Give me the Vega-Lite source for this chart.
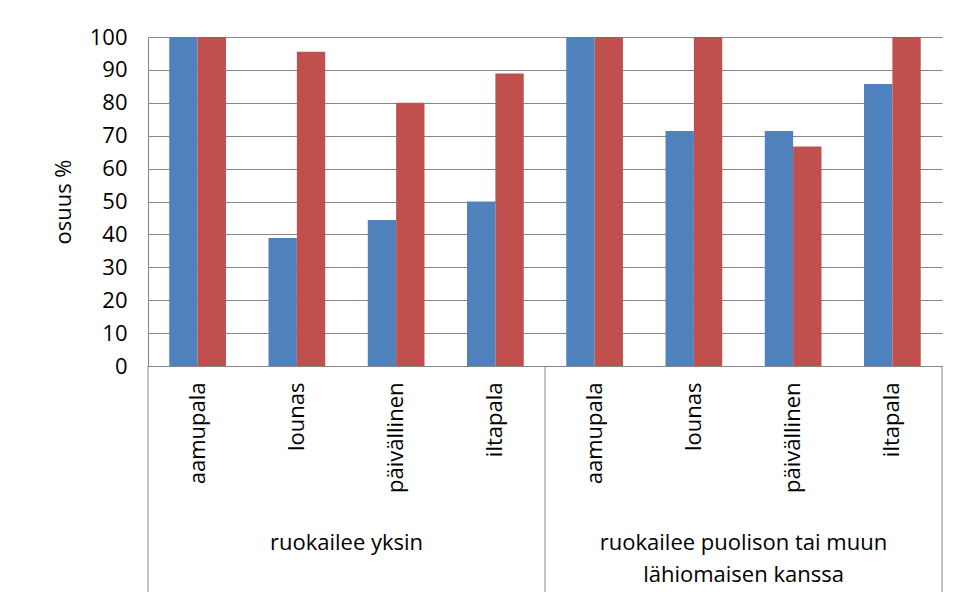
{
  "$schema": "https://vega.github.io/schema/vega-lite/v6.json",
  "background": "white",
  "autosize": {"type": "none"},
  "padding": {"left": 148, "top": 37, "right": 18, "bottom": 238},
  "width": 794,
  "height": 329,
  "data": {
    "values": [
      {"ryhma": "ruokailee yksin", "ateria": "aamupala", "sarja": "sarja 1", "osuus": 100},
      {"ryhma": "ruokailee yksin", "ateria": "aamupala", "sarja": "sarja 2", "osuus": 100},
      {"ryhma": "ruokailee yksin", "ateria": "lounas", "sarja": "sarja 1", "osuus": 38.9},
      {"ryhma": "ruokailee yksin", "ateria": "lounas", "sarja": "sarja 2", "osuus": 95.5},
      {"ryhma": "ruokailee yksin", "ateria": "päivällinen", "sarja": "sarja 1", "osuus": 44.4},
      {"ryhma": "ruokailee yksin", "ateria": "päivällinen", "sarja": "sarja 2", "osuus": 80},
      {"ryhma": "ruokailee yksin", "ateria": "iltapala", "sarja": "sarja 1", "osuus": 50},
      {"ryhma": "ruokailee yksin", "ateria": "iltapala", "sarja": "sarja 2", "osuus": 88.9},
      {"ryhma": "ruokailee puolison tai muun lähiomaisen kanssa", "ateria": "aamupala", "sarja": "sarja 1", "osuus": 100},
      {"ryhma": "ruokailee puolison tai muun lähiomaisen kanssa", "ateria": "aamupala", "sarja": "sarja 2", "osuus": 100},
      {"ryhma": "ruokailee puolison tai muun lähiomaisen kanssa", "ateria": "lounas", "sarja": "sarja 1", "osuus": 71.4},
      {"ryhma": "ruokailee puolison tai muun lähiomaisen kanssa", "ateria": "lounas", "sarja": "sarja 2", "osuus": 100},
      {"ryhma": "ruokailee puolison tai muun lähiomaisen kanssa", "ateria": "päivällinen", "sarja": "sarja 1", "osuus": 71.4},
      {"ryhma": "ruokailee puolison tai muun lähiomaisen kanssa", "ateria": "päivällinen", "sarja": "sarja 2", "osuus": 66.7},
      {"ryhma": "ruokailee puolison tai muun lähiomaisen kanssa", "ateria": "iltapala", "sarja": "sarja 1", "osuus": 85.7},
      {"ryhma": "ruokailee puolison tai muun lähiomaisen kanssa", "ateria": "iltapala", "sarja": "sarja 2", "osuus": 100}
    ]
  },
  "transform": [
    {"calculate": "datum.ryhma + '|' + datum.ateria", "as": "kohta"}
  ],
  "layer": [
    {
      "mark": {"type": "bar"},
      "encoding": {
        "x": {
          "field": "kohta",
          "type": "nominal",
          "sort": ["ruokailee yksin|aamupala", "ruokailee yksin|lounas", "ruokailee yksin|päivällinen", "ruokailee yksin|iltapala", "ruokailee puolison tai muun lähiomaisen kanssa|aamupala", "ruokailee puolison tai muun lähiomaisen kanssa|lounas", "ruokailee puolison tai muun lähiomaisen kanssa|päivällinen", "ruokailee puolison tai muun lähiomaisen kanssa|iltapala"],
          "scale": {"paddingInner": 0, "paddingOuter": 0},
          "axis": {"title": null, "labelExpr": "split(datum.value, '|')[1]"}
        },
        "xOffset": {
          "field": "sarja",
          "type": "nominal",
          "scale": {"paddingInner": 0, "paddingOuter": 0.75}
        },
        "y": {
          "field": "osuus",
          "type": "quantitative",
          "scale": {"domain": [0, 100], "nice": false},
          "axis": {"title": "osuus %", "values": [0, 10, 20, 30, 40, 50, 60, 70, 80, 90, 100]}
        },
        "color": {
          "field": "sarja",
          "type": "nominal",
          "scale": {"domain": ["sarja 1", "sarja 2"], "range": ["#4F81BD", "#C0504D"]},
          "legend": null
        }
      }
    },
    {
      "transform": [{"filter": "datum.ateria == 'aamupala' && datum.sarja == 'sarja 1'"}],
      "mark": {"type": "rule", "color": "#868686", "strokeWidth": 1},
      "encoding": {
        "x": {
          "field": "kohta",
          "type": "nominal",
          "bandPosition": 0,
          "sort": ["ruokailee yksin|aamupala", "ruokailee yksin|lounas", "ruokailee yksin|päivällinen", "ruokailee yksin|iltapala", "ruokailee puolison tai muun lähiomaisen kanssa|aamupala", "ruokailee puolison tai muun lähiomaisen kanssa|lounas", "ruokailee puolison tai muun lähiomaisen kanssa|päivällinen", "ruokailee puolison tai muun lähiomaisen kanssa|iltapala"],
          "axis": {"title": null, "labelExpr": "split(datum.value, '|')[1]"}
        },
        "y": {"datum": 0, "type": "quantitative", "axis": {"title": "osuus %", "values": [0, 10, 20, 30, 40, 50, 60, 70, 80, 90, 100]}},
        "y2": {"datum": -68.7}
      }
    },
    {
      "transform": [{"filter": "datum.ateria == 'iltapala' && datum.sarja == 'sarja 1' && datum.ryhma != 'ruokailee yksin'"}],
      "mark": {"type": "rule", "color": "#868686", "strokeWidth": 1},
      "encoding": {
        "x": {
          "field": "kohta",
          "type": "nominal",
          "bandPosition": 1,
          "sort": ["ruokailee yksin|aamupala", "ruokailee yksin|lounas", "ruokailee yksin|päivällinen", "ruokailee yksin|iltapala", "ruokailee puolison tai muun lähiomaisen kanssa|aamupala", "ruokailee puolison tai muun lähiomaisen kanssa|lounas", "ruokailee puolison tai muun lähiomaisen kanssa|päivällinen", "ruokailee puolison tai muun lähiomaisen kanssa|iltapala"],
          "axis": {"title": null, "labelExpr": "split(datum.value, '|')[1]"}
        },
        "y": {"datum": 0, "type": "quantitative", "axis": {"title": "osuus %", "values": [0, 10, 20, 30, 40, 50, 60, 70, 80, 90, 100]}},
        "y2": {"datum": -68.7}
      }
    },
    {
      "transform": [
        {"filter": "datum.ateria == 'päivällinen' && datum.sarja == 'sarja 1'"},
        {"calculate": "replace(datum.ryhma, 'muun ', 'muun|')", "as": "nimi"}
      ],
      "mark": {
        "type": "text",
        "font": "Open Sans",
        "fontSize": 22,
        "color": "#000000",
        "align": "center",
        "baseline": "alphabetic",
        "lineBreak": "|",
        "lineHeight": 32
      },
      "encoding": {
        "x": {
          "field": "kohta",
          "type": "nominal",
          "bandPosition": 0,
          "sort": ["ruokailee yksin|aamupala", "ruokailee yksin|lounas", "ruokailee yksin|päivällinen", "ruokailee yksin|iltapala", "ruokailee puolison tai muun lähiomaisen kanssa|aamupala", "ruokailee puolison tai muun lähiomaisen kanssa|lounas", "ruokailee puolison tai muun lähiomaisen kanssa|päivällinen", "ruokailee puolison tai muun lähiomaisen kanssa|iltapala"],
          "axis": {"title": null, "labelExpr": "split(datum.value, '|')[1]"}
        },
        "y": {"datum": -55.9, "type": "quantitative", "axis": {"title": "osuus %", "values": [0, 10, 20, 30, 40, 50, 60, 70, 80, 90, 100]}},
        "text": {"field": "nimi", "type": "nominal"}
      }
    }
  ],
  "config": {
    "view": {"stroke": null},
    "axisX": {
      "labelAngle": -90,
      "labelAlign": "right",
      "labelBaseline": "middle",
      "labelPadding": 16,
      "labelFont": "Open Sans",
      "labelFontSize": 22,
      "labelColor": "#000000",
      "labelOverlap": false,
      "ticks": false,
      "grid": false,
      "domainColor": "#868686",
      "domainWidth": 1
    },
    "axisY": {
      "labelOverlap": false,
      "grid": true,
      "gridColor": "#868686",
      "gridWidth": 1,
      "domainColor": "#868686",
      "ticks": false,
      "labelPadding": 21,
      "labelFont": "Open Sans",
      "labelFontSize": 22,
      "labelColor": "#000000",
      "titleFont": "Open Sans",
      "titleFontSize": 22,
      "titleFontWeight": "normal",
      "titleColor": "#000000",
      "titlePadding": 14
    }
  }
}
